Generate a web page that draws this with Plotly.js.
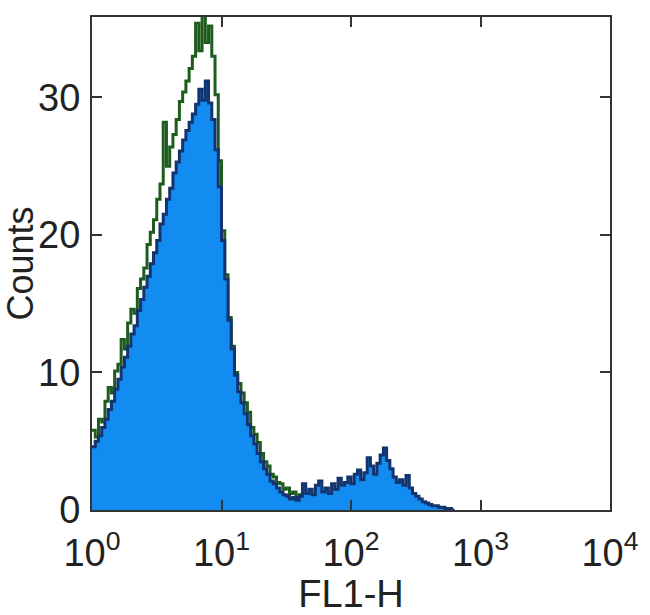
<!DOCTYPE html>
<html>
<head>
<meta charset="utf-8">
<script src="https://cdn.plot.ly/plotly-3.0.1.min.js"></script>
<style>html,body{margin:0;padding:0;background:#fff;}#chart{width:650px;height:615px;}</style>
</head>
<body>
<div id="chart"></div>
<script>
// FL1-H histogram, bins every 0.025 decade starting at 10^0
var binStart = 0;      // log10 of first bin
var binWidth = 0.025;  // decades per bin

var greenCounts = [5.8,5.3,6.6,6.4,7.9,8.9,8.5,10.1,10.6,12.4,
  11.7,13.6,14.6,14.3,16.1,16.8,17.6,19.3,20.2,21.1,
  22.6,23.7,28.2,25.0,26.4,27.3,28.4,29.7,30.4,31.2,
  32.1,33.0,35.4,33.4,36.0,34.0,35.2,33.0,30.2,25.4,
  20.3,17.1,14.0,11.9,10.0,9.2,8.5,7.8,7.1,6.0,
  5.5,4.9,4.1,3.5,3.2,2.6,2.4,2.0,1.9,1.5,
  1.6,1.2,1.3,0.9,1.1,0.8,1.0,0.7,0.9,0.8,
  1.1,0.7,0.9,1.0,0.8,1.2,0.9,1.1,0.8,1.3,
  1.0,1.2,0.9,1.1,1.4,1.0,1.2,0.9,1.0,0.8,
  0.9,0.7,0.8,0.6,0.5,0.6,0.4,0.4,0.3,0.3,
  0.2,0.2,0.1,0.1,0.1,0,0,0];

var blueCounts = [4.6,5.0,5.4,6.0,6.6,7.3,7.9,8.8,9.5,10.4,
  11.1,11.9,12.8,13.4,14.5,15.3,16.2,17.0,17.9,18.7,
  19.6,20.8,21.5,22.6,23.4,24.5,25.3,26.1,26.9,27.6,
  28.2,28.8,29.5,30.6,29.8,31.2,29.6,28.4,26.2,23.5,
  19.6,16.8,13.8,11.7,9.8,8.6,7.8,7.0,6.2,5.4,
  4.8,4.1,3.5,3.0,2.6,2.1,1.9,1.6,1.3,1.1,
  1.0,0.8,0.9,0.7,1.0,1.9,1.2,1.5,1.1,1.8,
  2.1,1.3,1.6,1.2,1.9,1.5,2.3,1.8,2.0,2.4,
  1.9,2.6,2.9,2.2,2.7,3.8,3.2,2.6,3.4,4.0,
  4.5,3.6,3.0,2.4,2.0,2.2,1.8,2.5,1.6,1.2,
  1.0,0.8,0.6,0.5,0.4,0.3,0.3,0.2,0.2,0.1,
  0.1,0,0];

var xTickVals = [0,1,2,3,4];
var xTickText = ['10<sup>0</sup>','10<sup>1</sup>','10<sup>2</sup>','10<sup>3</sup>','10<sup>4</sup>'];
var yTickVals = [0,10,20,30];

var traces = [
  {type:'scatter', mode:'lines', x0:binStart, dx:binWidth, y:greenCounts,
   line:{color:'#1e5c1e', width:3, shape:'hv'}, hoverinfo:'skip'},
  {type:'scatter', mode:'lines', x0:binStart, dx:binWidth, y:blueCounts,
   fill:'tozeroy', fillcolor:'#128cf0',
   line:{color:'#13346f', width:3, shape:'hv'}, hoverinfo:'skip'}
];

var fontFam = 'Liberation Sans, Arial, sans-serif';
var axisCommon = {
  showgrid:false, zeroline:false, showline:true, linecolor:'#333', linewidth:2,
  mirror:'ticks', ticks:'inside', ticklen:10, tickwidth:2, tickcolor:'#333',
  tickfont:{family:fontFam, size:38, color:'#222'}
};

var layout = {
  width:650, height:615,
  margin:{l:92, r:40, t:17, b:105},
  paper_bgcolor:'#fff', plot_bgcolor:'#fff',
  showlegend:false,
  xaxis:Object.assign({}, axisCommon, {
    range:[0,4], tickvals:xTickVals, ticktext:xTickText, ticklabelstandoff:8,
    title:{text:'FL1-H', font:{family:fontFam, size:38, color:'#222'}, standoff:0}
  }),
  yaxis:Object.assign({}, axisCommon, {
    range:[0,35.85], tickvals:yTickVals, ticklabelstandoff:2,
    title:{text:'Counts', font:{family:fontFam, size:36, color:'#222'}, standoff:0}
  })
};

Plotly.newPlot('chart', traces, layout, {displayModeBar:false, staticPlot:true});
</script>
</body>
</html>
